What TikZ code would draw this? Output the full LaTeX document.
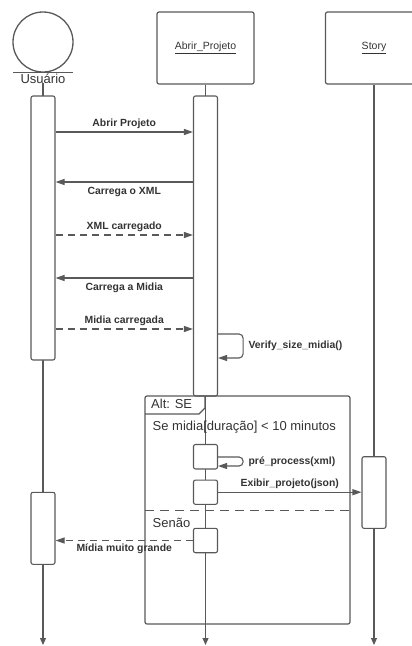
\documentclass[tikz,border=0pt]{standalone}
\usepackage{fontspec}
\setmainfont{Liberation Sans}
\usetikzlibrary{positioning,arrows.meta,calc}
\usepackage{xcolor}
\definecolor{linegray}{HTML}{595959}
\definecolor{textgray}{HTML}{333333}

\begin{document}
\begin{tikzpicture}[x=1pt, y=-1pt,
    every node/.style={text=textgray, inner sep=0pt},
    lane/.style={draw=linegray, line width=1.2pt, rounded corners=2pt, minimum width=97pt, minimum height=72pt, font=\fontsize{10.5}{12}\selectfont},
    bar/.style={draw=linegray, line width=1.1pt, rounded corners=2pt, fill=white, minimum width=24pt},
    life/.style={draw=linegray, line width=1.1pt, -{Triangle[length=7pt, width=6pt]}},
    msg/.style={draw=linegray, line width=1.1pt, -{Triangle[length=9pt, width=6pt]}},
    reply/.style={msg, dash pattern=on 7pt off 5pt},
    lbl/.style={font=\bfseries\fontsize{10.4}{12}\selectfont},
    big/.style={font=\fontsize{13}{15}\selectfont}]
    \useasboundingbox (0,0) rectangle (412,646);

    % Actor and objects
    \node[circle, draw=linegray, line width=1.3pt, minimum size=60pt] (user) at (43,42) {};
    \draw[linegray, line width=1.3pt] ($(user.south)+(-30,0)$) -- ($(user.south)+(30,0)$);
    \node[big, anchor=base] (userlbl) at (43,83) {Usuário};
    \node[lane] (abrir) at (205.5,48) {\underline{Abrir\_Projeto}};
    \node[lane] (story) at (374,48) {\underline{Story}};

    % Lifelines
    \coordinate (bottom) at (0,645);
    \draw[life] (userlbl.south) -- (userlbl.south |- bottom);
    \draw[life] (abrir.south) -- (abrir.south |- bottom);
    \draw[life] (story.south) -- (story.south |- bottom);

    % Activation bars
    \node[bar, minimum height=264pt] (u1) at (43,228) {};
    \node[bar, minimum height=72pt] (u2) at (43,528.3) {};
    \node[bar, minimum height=300pt] (a1) at (205.5,246) {};
    \node[bar, minimum height=24.5pt] (a2) at (205.5,456.7) {};
    \node[bar, minimum height=24.3pt] (a3) at (205.5,492.2) {};
    \node[bar, minimum height=24.4pt] (a4) at (205.5,540.5) {};
    \node[bar, minimum height=71.6pt] (s1) at (374,492.5) {};

    % Messages
    \coordinate (m1) at (0,132);
    \coordinate (m2) at (0,182);
    \coordinate (m3) at (0,235);
    \coordinate (m4) at (0,278);
    \coordinate (m5) at (0,329);
    \draw[msg] (u1.east |- m1) -- node[lbl, above=3pt] {Abrir Projeto} (a1.west |- m1);
    \draw[msg] (a1.west |- m2) -- node[lbl, below=5pt] {Carrega o XML} (u1.east |- m2);
    \draw[reply] (u1.east |- m3) -- node[lbl, above=3pt] {XML carregado} (a1.west |- m3);
    \draw[msg] (a1.west |- m4) -- node[lbl, below=4pt] {Carrega a Midia} (u1.east |- m4);
    \draw[reply] (u1.east |- m5) -- node[lbl, above=3pt] {Midia carregada} (a1.west |- m5);

    % Self call
    \coordinate (v1) at (0,334);
    \coordinate (v2) at (0,358);
    \draw[msg, rounded corners=4pt] (a1.east |- v1) -- ++(25,0)
        -- node[lbl, right=5pt] {Verify\_size\_midia()} ++(0,24) -- (a1.east |- v2);

    % Alt frame
    \coordinate (f1) at (145,396);
    \coordinate (f2) at (350,624);
    \draw[linegray, line width=1.2pt, rounded corners=2pt] (f1) rectangle (f2);
    \draw[linegray, line width=1.1pt] (145,414) -- (199,414) -- (205,408) -- (205,396);
    \node[big, anchor=base west] (altlbl) at (151,408.3) {Alt: SE};
    \node[big, anchor=base west] (cond) at (152.5,430.7) {Se midia[duração] < 10 minutos};
    \draw[linegray, line width=1.2pt, dash pattern=on 9pt off 6pt] (f1 |- 0,510.7) -- (f2 |- 0,510.7);
    \node[big, anchor=base west] (senao) at (152.5,527) {Senão};

    % Inside alt
    \coordinate (v3) at (0,457);
    \coordinate (v4) at (0,466);
    \draw[msg, rounded corners=4pt] (a2.east |- v3) -- ++(25,0)
        -- node[lbl, right=5pt] {pré\_process(xml)} ++(0,9) -- (a2.east |- v4);
    \draw[msg] (a3.east) -- node[lbl, above=3pt] {Exibir\_projeto(json)} (s1.west |- a3.east);
    \draw[reply] (a4.west) -- node[lbl, below=3pt] {Mídia muito grande} (u2.east |- a4.west);
\end{tikzpicture}
\end{document}
